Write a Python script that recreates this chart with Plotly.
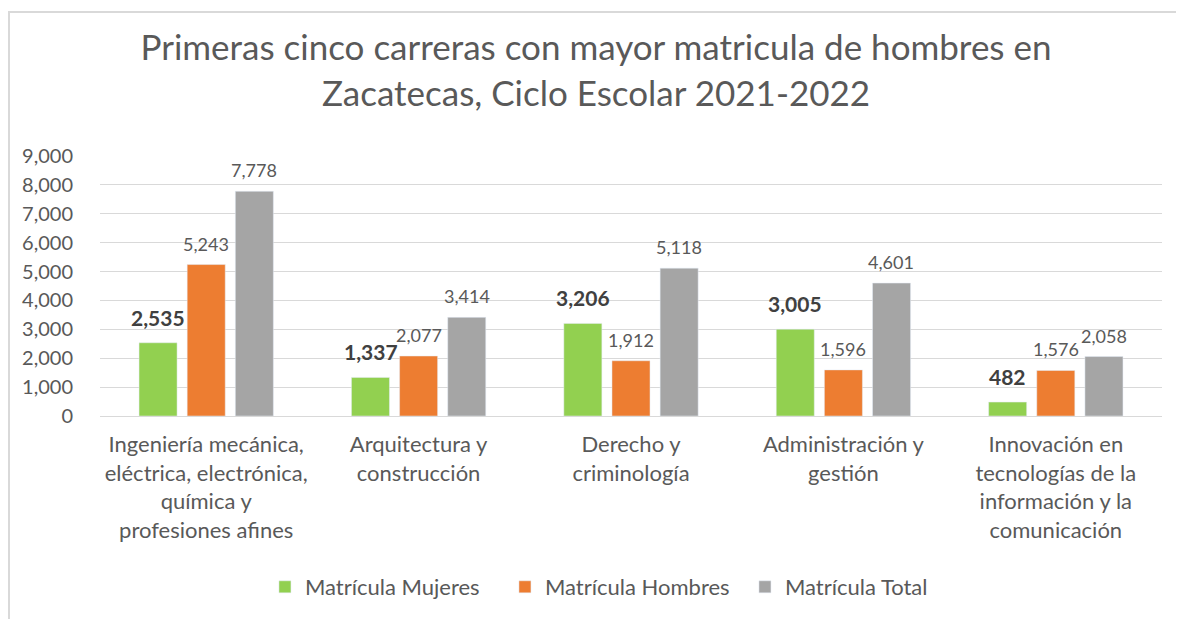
import plotly.graph_objects as go

# Data
categories = [
    "Ingeniería mecánica,<br>eléctrica, electrónica,<br>química y<br>profesiones afines",
    "Arquitectura y<br>construcción",
    "Derecho y<br>criminología",
    "Administración y<br>gestión",
    "Innovación en<br>tecnologías de la<br>información y la<br>comunicación",
]
series_names = ["Matrícula Mujeres", "Matrícula Hombres", "Matrícula Total"]
mujeres = [2535, 1337, 3206, 3005, 482]
hombres = [5243, 2077, 1912, 1596, 1576]
total = [7778, 3414, 5118, 4601, 2058]
colors = ["#92D050", "#ED7D31", "#A5A5A5"]

font_family = "Lato, 'Open Sans', sans-serif"
text_color = "#595959"

# page body has an 8px margin, so the figure is a bit smaller than the window
W, H = 1176, 611
L, R, T, B = 92, 22, 148, 203
plot_w = W - L - R
plot_h = H - T - B

fig = go.Figure()
for name, vals, col in zip(series_names, [mujeres, hombres, total], colors):
    fig.add_trace(go.Bar(x=categories, y=vals, name=name, marker=dict(color=col)))

# value labels above bars (women in bold)
slot = 48  # px between bar centers within a group
annotations = []
for i, vals in enumerate([mujeres, hombres, total]):
    bold = i == 0
    for cat, v in zip(categories, vals):
        annotations.append(dict(
            x=cat, y=v, xref="x", yref="y",
            text=f"<b>{v:,}</b>" if bold else f"{v:,}",
            showarrow=False, xanchor="center", yanchor="bottom",
            xshift=(i - 1) * slot, yshift=11 if bold else 8,
            font=dict(size=21 if bold else 18,
                      color="#404040" if bold else text_color,
                      family=font_family),
        ))

fig.update_layout(
    width=W, height=H,
    barmode="group", bargap=0.32, bargroupgap=0.21,
    paper_bgcolor="white", plot_bgcolor="white",
    font=dict(family=font_family, color=text_color, size=18),
    title=dict(
        text="Primeras cinco carreras con mayor matricula de hombres en<br>Zacatecas, Ciclo Escolar 2021-2022",
        x=0.5, xanchor="center", xref="container",
        y=1 - 52 / H, yanchor="top", yref="container",
        font=dict(size=35, color=text_color, family=font_family),
    ),
    margin=dict(l=L, r=R, t=T, b=B, autoexpand=False),
    xaxis=dict(showgrid=False, showline=False, ticks="", automargin=False,
               tickfont=dict(size=22, color=text_color), ticklabelstandoff=13),
    yaxis=dict(range=[0, 9000], dtick=1000, tickformat=",", automargin=False,
               showgrid=True, gridcolor="#D9D9D9", gridwidth=1,
               zeroline=True, zerolinecolor="#D9D9D9", zerolinewidth=1,
               tickfont=dict(size=20, color=text_color),
               ticks="", ticklabelstandoff=26),
    legend=dict(orientation="h", xref="container", x=0.2185, xanchor="left",
                yref="container", y=(H - 579) / H, yanchor="middle",
                font=dict(size=22, color=text_color), traceorder="normal",
                itemwidth=30, entrywidth=195, entrywidthmode="pixels"),
    showlegend=True,
    annotations=annotations,
    shapes=[dict(type="rect", xref="paper", yref="paper",
                 x0=(1 - L) / plot_w, x1=(W + 20 - L) / plot_w,
                 y0=-(B + 30) / plot_h, y1=(plot_h + T - 4) / plot_h,
                 line=dict(color="#D9D9D9", width=2), layer="below")],
)

fig.write_html("out.html")
